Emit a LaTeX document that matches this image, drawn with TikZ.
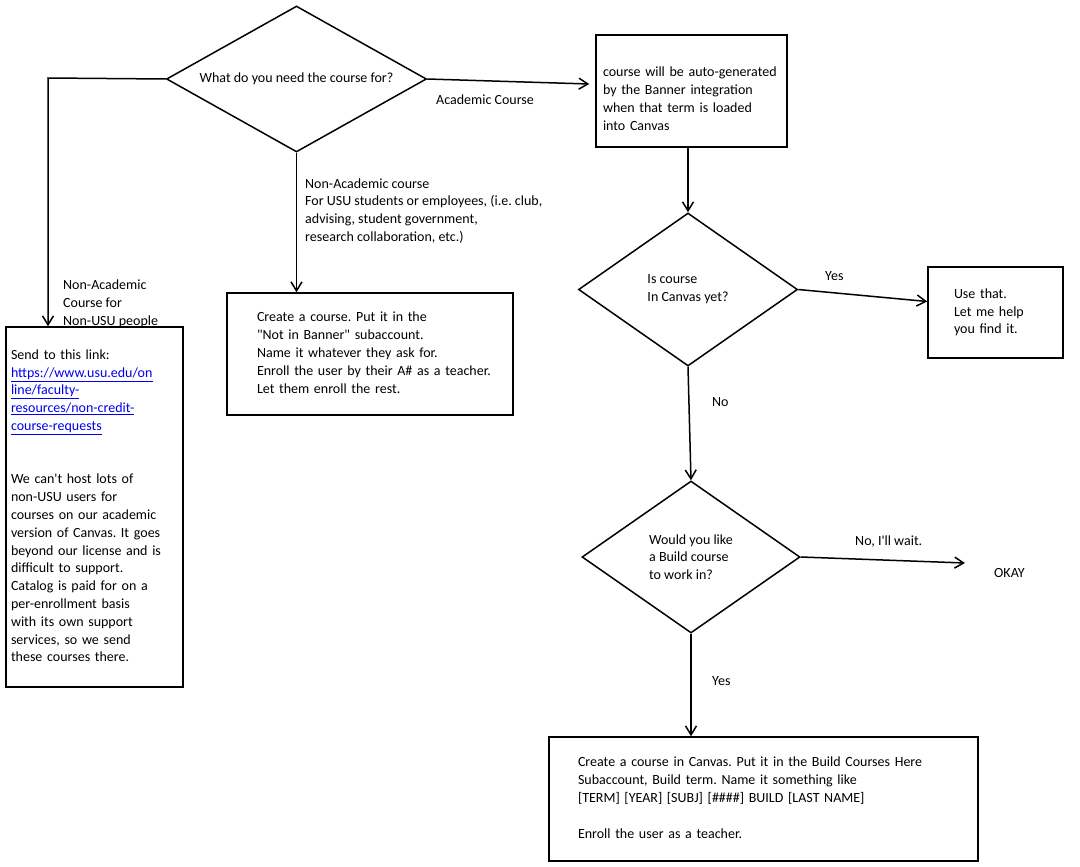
\documentclass[tikz,border=0pt]{standalone}
\usepackage{fontspec}
\setmainfont{Carlito}[Ligatures=TeXOff]
\usetikzlibrary{shapes.geometric,arrows.meta}
\definecolor{linkblue}{RGB}{0,0,238}
\newcommand\rows[1]{\begin{tabular}{@{}l@{}}#1\end{tabular}}
\frenchspacing
\begin{document}
\begin{tikzpicture}[x=1pt,y=-1pt,
  every node/.style={font=\fontsize{14}{17.8}\selectfont, text=black},
  box/.style={draw, line width=1.5pt, align=left, inner ysep=0pt},
  dec/.style={diamond, draw, line width=1.5pt, inner sep=0pt, aspect=1.8, align=left},
  arr/.style={line width=1.5pt, -{Straight Barb[length=9pt,width=11pt]}},
  lbl/.style={anchor=west, align=left, inner sep=0pt}]
\fill[white] (0,0) rectangle (1080,867);
\useasboundingbox (0,0) rectangle (1080,867);

% decisions
\node[dec, minimum width=260pt, minimum height=146pt] (d1) at (296.5,79) {What do you need the course for?};
\node[dec, minimum width=219pt, minimum height=153pt] (d2) at (688,289.5) {Is course\\In Canvas yet?};
\node[dec, minimum width=218pt, minimum height=152pt] (d3) at (691,557) {Would you like\\a Build course\\to work in?};

% boxes
\node[box, minimum width=177pt, minimum height=360pt, text width=167pt, inner xsep=5pt] (lbox) at (94.5,507) {\rows{Send to this link:\\
\textcolor{linkblue}{\underline{https://www.usu.edu/on}}\\
\textcolor{linkblue}{\underline{line/faculty-}}\\
\textcolor{linkblue}{\underline{resources/non-credit-}}\\
\textcolor{linkblue}{\underline{course-requests}}\\
\\
\\
We can't host lots of\\
non-USU users for\\
courses on our academic\\
version of Canvas. It goes\\
beyond our license and is\\
difficult to support.\\
Catalog is paid for on a\\
per-enrollment basis\\
with its own support\\
services, so we send\\
these courses there.}};

\node[box, minimum width=286pt, minimum height=122pt, text width=226pt, inner xsep=30pt] (mbox) at (370,354) {\rows{Create a course. Put it in the\\
"Not in Banner" subaccount.\\
Name it whatever they ask for.\\
Enroll the user by their A\# as a teacher.\\
Let them enroll the rest.}};

\node[box, minimum width=191pt, minimum height=112pt, text width=177pt, inner xsep=7pt] (b2) at (691.5,91) {\rows{\\course will be auto-generated\\
by the Banner integration\\
when that term is loaded\\
into Canvas}};

\node[box, minimum width=135pt, minimum height=91pt, text width=83pt, inner xsep=26pt] (b3) at (995.5,312.5) {\rows{Use that.\\
Let me help\\
you find it.}};

\node[box, minimum width=429pt, minimum height=124pt, text width=371pt, inner xsep=29pt] (b4) at (763.5,799) {\rows{Create a course in Canvas. Put it in the Build Courses Here\\
Subaccount, Build term. Name it something like\\
{}[TERM] [YEAR] [SUBJ] [\#\#\#\#] BUILD [LAST NAME]\\
\\
Enroll the user as a teacher.}};

\node[lbl] (okay) at (994,573) {OKAY};

% labels
\node[lbl] (lacad) at (436,100) {Academic Course};
\node[lbl] (lnonacad) at (305,211) {Non-Academic course\\For USU students or employees, (i.e. club,\\advising, student government,\\research collaboration, etc.)};
\node[lbl] (lnonusu) at (63,304) {Non-Academic\\Course for\\Non-USU people};
\node[lbl] (lyes1) at (825,276) {Yes};
\node[lbl] (lno1) at (712,402) {No};
\node[lbl] (lwait) at (855,542) {No, I'll wait.};
\node[lbl] (lyes2) at (712,681) {Yes};

% connectors
\coordinate (lc) at (48,78);
\draw[arr] (d1.west) -- (lc) -- (lc |- lbox.north);
\draw[arr] (d1.south) -- (d1.south |- mbox.north);
\draw[arr] (d1.east) -- ([shift={(-6pt,7pt)}]b2.west);
\draw[arr] (b2.south -| d2.north) -- (d2.north);
\draw[arr] (d2.east) -- ([yshift=11pt]b3.west);
\draw[arr] (d2.south) -- (d3.north);
\draw[arr] (d3.east) -- ([shift={(-29pt,10pt)}]okay.west);
\draw[arr] (d3.south) -- (d3.south |- b4.north);
\end{tikzpicture}
\end{document}
